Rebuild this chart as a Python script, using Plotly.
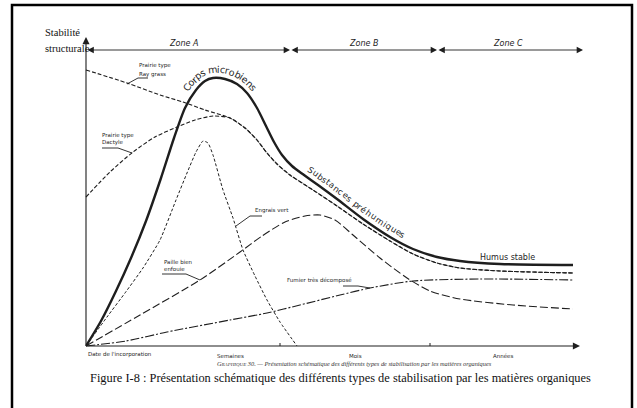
import numpy as np
import plotly.graph_objects as go

# ---- data (schematic units: x = time, y = stabilité structurale) ----
corps_x = [0, 15, 30, 45, 60, 75, 88, 99, 110, 119, 127, 139, 151, 161, 171, 180, 188, 196, 206, 218, 232, 251, 277, 304, 327, 351, 374, 414, 487]
corps_y = [0, 25, 55, 88, 125, 168, 208, 238, 256, 265, 268, 267, 262, 253, 238, 220, 204, 191, 180, 171, 161, 147, 127, 109, 97, 89, 85, 82, 81]

raygrass_x = [0, 41, 74, 97, 119]
raygrass_y = [276, 263, 251, 244, 236]
dactyle_x = [0, 24, 47, 69, 91, 109, 127]
dactyle_y = [149, 174, 194, 209, 219, 226, 230]
prairie_common_x = [144, 159, 171, 181, 191, 204, 227, 251, 277, 304, 327, 351, 374, 414, 487]
prairie_common_y = [228, 218, 206, 193, 182, 171, 156, 140, 122, 105, 92, 83, 78, 75, 73]

engrais_x = [0, 21, 39, 57, 74, 90, 101, 110, 117, 122, 127, 137, 147, 157, 169, 181, 194, 211]
engrais_y = [0, 29, 53, 78, 106, 146, 173, 194, 205, 203, 191, 156, 128, 96, 70, 46, 24, 0]

paille_x = [0, 54, 114, 154, 176, 199, 219, 234, 249, 267, 294, 321, 344, 374, 427, 487]
paille_y = [0, 31, 66, 94, 110, 124, 130, 131, 126, 111, 88, 68, 55, 47, 41, 37]

fumier_x = [0, 40, 81, 144, 181, 214, 254, 284, 327, 394, 487]
fumier_y = [0, 5, 14, 26, 33, 41, 51, 58, 65, 67, 66]

zone_bounds = [0, 204, 351, 497]
zone_labels = ["Zone A", "Zone B", "Zone C"]
time_labels = ["Semaines", "Mois", "Années"]
time_label_x = [144, 269, 417]
tick_x = [194, 344]

INK = "#1e1e1e"
LBL = "DejaVu Sans"
SERIF = "Liberation Serif"

# approximate DejaVu Sans advance widths (em)
CHAR_W = {"C": .698, "S": .635, "o": .612, "r": .411, "p": .635, "s": .521, " ": .318,
          "m": .974, "i": .278, "c": .550, "b": .635, "e": .615, "n": .634, "u": .634,
          "t": .392, "a": .613, "é": .615, "h": .634, "q": .635}

fig = go.Figure()

def add_line(x, y, name, width, dash, smooth=0.7):
    fig.add_trace(go.Scatter(x=x, y=y, mode="lines", name=name,
                             line=dict(color=INK, width=width, dash=dash,
                                       shape="spline", smoothing=smooth),
                             hoverinfo="skip", showlegend=False))

add_line(raygrass_x + prairie_common_x, raygrass_y + prairie_common_y, "Prairie type Ray grass", 1.1, "4px,2px")
add_line(dactyle_x + prairie_common_x, dactyle_y + prairie_common_y, "Prairie type Dactyle", 1.1, "4px,2px")
add_line(engrais_x, engrais_y, "Engrais vert", 1.0, "3px,2px", 0.5)
add_line(paille_x, paille_y, "Paille bien enfouie", 1.1, "8px,3px")
add_line(fumier_x, fumier_y, "Fumier très décomposé", 1.1, "9px,2px,2px,2px")
add_line(corps_x, corps_y, "Corps microbiens", 2.4, "solid")

ann = []

def path_letters(xs, ys, text, first, track, offset, size):
    x = np.asarray(xs, float); y = np.asarray(ys, float)
    s = np.concatenate([[0], np.cumsum(np.hypot(np.diff(x), np.diff(y)))])
    ss = np.linspace(0, s[-1], 3000)
    X = np.interp(ss, s, x); Y = np.interp(ss, s, y)
    k = 60
    ker = np.ones(k) / k
    Xs = np.convolve(np.pad(X, (k // 2, k - 1 - k // 2), mode="edge"), ker, mode="valid")
    Ys = np.convolve(np.pad(Y, (k // 2, k - 1 - k // 2), mode="edge"), ker, mode="valid")
    tx = np.gradient(Xs); ty = np.gradient(Ys)
    n = np.hypot(tx, ty); tx /= n; ty /= n
    OX = Xs - ty * offset; OY = Ys + tx * offset
    os_ = np.concatenate([[0], np.cumsum(np.hypot(np.diff(OX), np.diff(OY)))])
    i0 = int(np.argmin((OX - first[0]) ** 2 + (OY - first[1]) ** 2))
    widths = [CHAR_W.get(c, .6) for c in text]
    cum = 0.0
    for j, ch in enumerate(text):
        sj = os_[i0] + (cum + widths[j] / 2 - widths[0] / 2) * size * track
        cum += widths[j]
        xi = float(np.interp(sj, os_, OX)); yi = float(np.interp(sj, os_, OY))
        txi = float(np.interp(sj, os_, tx)); tyi = float(np.interp(sj, os_, ty))
        ang = -np.degrees(np.arctan2(tyi, txi))
        if ch != " ":
            ann.append(dict(x=xi, y=yi, text=ch, textangle=ang, showarrow=False,
                            xanchor="center", yanchor="middle",
                            font=dict(family=LBL, size=size, color=INK)))

path_letters(corps_x, corps_y, "Corps microbiens", (103, 257), 1.02, 9, 9.5)
path_letters(corps_x, corps_y, "Substances préhumiques", (223, 174), 1.1, 8, 8.5)

def txt(x, y, s, size, family=LBL, anchor="left", italic=False, color=INK):
    ann.append(dict(x=x, y=y, text=s, showarrow=False, xanchor=anchor, yanchor="middle",
                    font=dict(family=family, size=size, color=color,
                              style="italic" if italic else "normal")))

# axes arrows
ann.append(dict(x=0, y=309, ax=0, ay=0, axref="x", ayref="y", xref="x", yref="y",
                showarrow=True, arrowhead=2, arrowsize=1.3, arrowwidth=1.1, arrowcolor=INK, text=""))
ann.append(dict(x=494, y=0, ax=0, ay=0, axref="x", ayref="y", xref="x", yref="y",
                showarrow=True, arrowhead=2, arrowsize=1.3, arrowwidth=1.1, arrowcolor=INK, text=""))
# zone arrows
for i in range(3):
    ann.append(dict(x=zone_bounds[i + 1], y=296, ax=zone_bounds[i], ay=296, axref="x", ayref="y",
                    xref="x", yref="y", showarrow=True, arrowhead=2, startarrowhead=2,
                    arrowside="end+start", arrowsize=1.4, startarrowsize=1.4,
                    arrowwidth=0.9, arrowcolor=INK, text=""))
zone_label_x = [97, 277, 422]
for lx, lab in zip(zone_label_x, zone_labels):
    txt(lx, 303, lab, 8, anchor="center", italic=True)

# tick marks
shapes = []
for t in tick_x:
    shapes.append(dict(type="line", x0=t, x1=t, y0=0, y1=3, line=dict(color=INK, width=1)))

# curve labels
txt(51, 281, "Prairie type", 5.5)
txt(51, 272, "Ray grass", 5.5)
shapes.append(dict(type="path", path="M 62,268 L 52,268 L 41,262", line=dict(color=INK, width=0.9)))
txt(14, 211, "Prairie type", 5.5)
txt(14, 204, "Dactyle", 5.5)
shapes.append(dict(type="path", path="M 16,198 L 32,198 L 46,193", line=dict(color=INK, width=0.9)))
txt(167, 136, "Engrais vert", 5.5)
shapes.append(dict(type="path", path="M 176,130 L 164,130 L 150,120", line=dict(color=INK, width=0.9)))
txt(76, 84, "Paille bien", 5.5)
txt(76, 77, "enfouie", 5.5)
shapes.append(dict(type="path", path="M 76,72 L 100,72 L 114,66", line=dict(color=INK, width=0.9)))
txt(199, 66, "Fumier très décomposé", 5.5)
shapes.append(dict(type="path", path="M 257,60 L 272,60 L 284,58", line=dict(color=INK, width=0.9)))
txt(421, 89, "Humus stable", 8, anchor="center")

# axis labels
txt(0, -8, "Date de l'incorporation", 5.5)
for lx, lab in zip(time_label_x, time_labels):
    txt(lx, -10, lab, 5.5, anchor="center")
txt(129, -17, "G<span style='font-size:5px'>RAPHIQUE</span> 30. — Présentation schématique des différents types de stabilisation par les matières organiques",
    6.3, family=SERIF, italic=True, color="#333")
txt(-43, 314, "Stabilité", 10.5, family=SERIF, color="#111")
txt(-43, 298, "structurale", 10.5, family=SERIF, color="#111")
txt(2, -32, "Figure I-8 : Présentation schématique des différents types de stabilisation par les matières organiques",
    12.4, family=SERIF, color="#111")

# outer frame
shapes.append(dict(type="rect", xref="paper", yref="paper", x0=12 / 637, x1=632 / 637,
                   y0=-0.02, y1=1 - 5 / 408, line=dict(color="black", width=2.5)))

fig.update_layout(
    width=637, height=408, margin=dict(l=0, r=0, t=0, b=0),
    paper_bgcolor="white", plot_bgcolor="white",
    xaxis=dict(range=[-86, 551], visible=False, fixedrange=True),
    yaxis=dict(range=[-62, 346], visible=False, fixedrange=True),
    annotations=ann, shapes=shapes, showlegend=False,
)
fig.write_html("out.html", config={"displayModeBar": False},
               post_script="document.body.style.margin='0px';document.body.style.overflow='hidden';")
